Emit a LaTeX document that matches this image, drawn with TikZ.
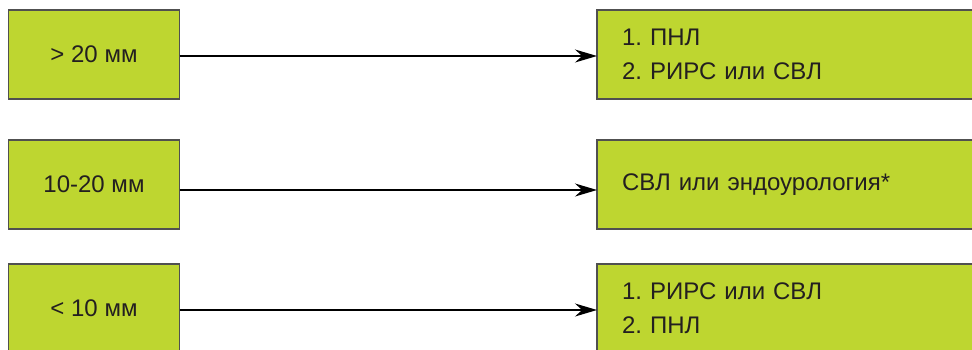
\documentclass[tikz,border=0pt]{standalone}
\usepackage{xcolor}
\usepackage{fontspec}
\setmainfont{Liberation Sans}
\usepackage{tikz}
\usetikzlibrary{arrows.meta}
\usetikzlibrary{positioning}
\frenchspacing

\definecolor{boxgreen}{RGB}{190,214,48}
\definecolor{boxline}{RGB}{80,80,80}
\definecolor{txtdark}{RGB}{35,31,32}

\begin{document}
\begin{tikzpicture}[x=1pt, y=-1pt, ->, >={Stealth[length=22pt,width=13pt]}, line width=1.3pt]
    \tikzstyle{sizebox}=[rectangle, draw=boxline, fill=boxgreen, line width=1.6pt, outer sep=0pt,
        minimum width=171pt, minimum height=89pt, text=txtdark, font=\fontsize{24}{34}\selectfont]
    \tikzstyle{treatbox}=[sizebox, minimum width=403pt, inner xsep=25pt, text width=353pt, align=left]

    \useasboundingbox (0,0) rectangle (972,349);

    \node[sizebox] (big) at (94,54.5) {> 20 мм};
    \node[sizebox] (mid) [below=41pt of big] {10-20 мм};
    \node[sizebox] (small) [below=35pt of mid] {< 10 мм};

    \node[treatbox] (bigtx) [right=417.5pt of big] {1. ПНЛ\\2. РИРС или СВЛ};
    \node[treatbox] (midtx) [right=417.5pt of mid] {СВЛ или эндоурология*};
    \node[treatbox] (smalltx) [right=417.5pt of small] {1. РИРС или СВЛ\\2. ПНЛ};

    \path
    ([yshift=-1.5pt]big.east)   edge [] ([yshift=-1.5pt]bigtx.west)
    ([yshift=-5.5pt]mid.east)   edge [] ([yshift=-5.5pt]midtx.west)
    ([yshift=-1.5pt]small.east) edge [] ([yshift=-1.5pt]smalltx.west);

\end{tikzpicture}
\end{document}
